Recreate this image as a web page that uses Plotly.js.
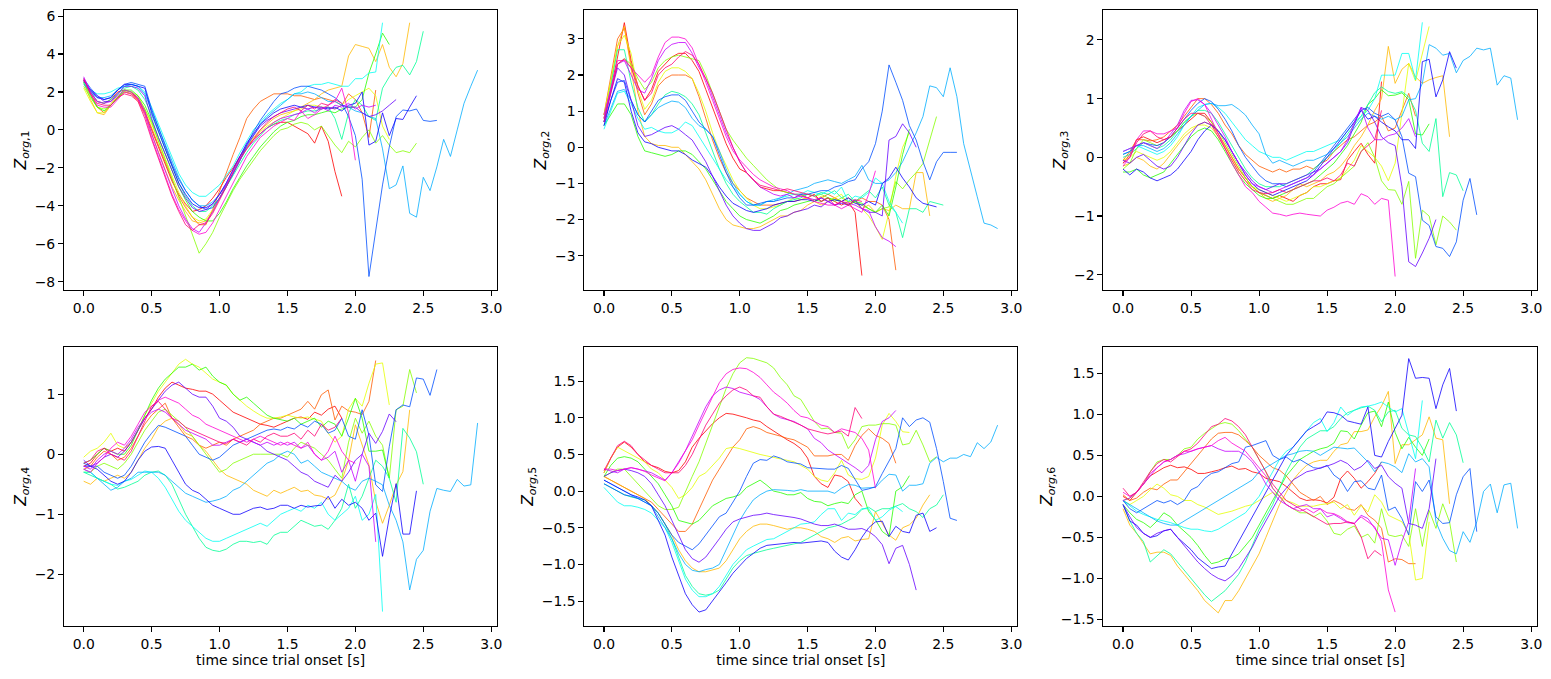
<!DOCTYPE html>
<html>
<head>
<meta charset="utf-8">
<script src="https://cdn.plot.ly/plotly-3.0.1.min.js"></script>
<style>
html,body{margin:0;padding:0;background:#fff;}
#chart{width:1551px;height:679px;}
</style>
</head>
<body>
<div id="chart"></div>
<script>
// sampling interval of every trial [s]
const sampleStep = 0.05;
// one colour per trial (hsv colormap)
const trialColors = ['#ff0000','#ff5c00','#ffb900','#e4ff00','#85ff00','#27ff00','#00ff95','#00fff3',
                     '#00adff','#004fff','#0f00ff','#6600ff','#c400ff','#ff00d4','#ff0076'];
const yLabels = ['<i>Z</i><sub><i>org</i>,1</sub>','<i>Z</i><sub><i>org</i>,2</sub>','<i>Z</i><sub><i>org</i>,3</sub>',
                 '<i>Z</i><sub><i>org</i>,4</sub>','<i>Z</i><sub><i>org</i>,5</sub>','<i>Z</i><sub><i>org</i>,6</sub>'];
const xLabel = 'time since trial onset [s]';
const xTickVals = [0.0,0.5,1.0,1.5,2.0,2.5,3.0];

// ---------- component 1 ----------
const z1 = [
[2.6,2.0,1.5,1.4,1.6,2.0,2.1,2.0,1.6,0.9, 0.0,-0.9,-1.8,-2.7,-3.4,-3.9,-4.3,-4.2,-4.0,-3.6, -3.1,-2.5,-2.0,-1.4,-0.9,-0.5,-0.2,0.1,0.3,0.4, 0.4,0.2,0.0,-0.2,-0.7,0.2,-0.6,-2.2,-3.5],
[2.6,1.9,1.2,0.9,1.3,1.7,2.0,1.9,1.6,1.0, 0.1,-0.8,-1.8,-2.7,-3.5,-4.1,-4.6,-5.0,-5.0,-4.2, -3.2,-2.2,-1.3,-0.4,0.6,1.1,1.5,1.7,1.9,1.9, 1.9,1.8,1.8,1.7,1.6,1.7,1.6,1.5,1.3,1.9, 1.6,0.9,-0.4,2.1],
[2.5,1.6,0.9,0.8,1.3,1.7,2.0,1.9,1.5,0.8, -0.2,-1.2,-2.1,-3.0,-3.7,-4.3,-4.8,-4.9,-4.8,-4.3, -3.6,-2.9,-2.3,-1.6,-0.9,-0.4,0.0,0.3,0.6,0.8, 0.9,1.0,1.2,1.4,1.6,1.9,2.1,2.2,2.3,3.9, 4.5,4.4,4.3,3.6,4.5,3.3,2.8,3.5,5.65],
[2.2,1.5,0.9,0.9,1.4,1.8,2.1,2.0,1.8,1.1, 0.3,-0.6,-1.5,-2.4,-3.3,-4.0,-4.6,-4.8,-4.7,-4.2, -3.6,-2.9,-2.3,-1.6,-1.0,-0.5,-0.1,0.2,0.4,0.6, 0.8,1.0,1.1,1.3,1.3,1.2,1.2,1.1,1.3,1.6, 1.8,2.0,2.2,1.8,0.2,-0.5],
[2.3,1.7,1.2,1.1,1.3,1.7,2.0,2.0,1.7,1.1, 0.4,-0.6,-1.6,-2.6,-3.6,-4.6,-5.5,-6.5,-6.0,-5.4, -4.6,-3.9,-3.2,-2.6,-2.1,-1.6,-1.1,-0.7,-0.3,0.0, 0.1,0.3,0.4,0.3,0.0,0.2,-0.3,-0.8,-1.2,-0.6, -0.9,-0.4,0.0,-0.7,-0.3,-0.8,-1.2,-1.1,-1.2,-0.7],
[2.5,1.8,1.2,1.0,1.3,1.7,2.1,2.1,1.8,1.3, 0.5,-0.4,-1.3,-2.2,-3.0,-3.7,-4.3,-4.6,-4.8,-4.8, -4.4,-3.8,-3.1,-2.5,-1.9,-1.4,-0.9,-0.5,-0.1,0.2, 0.4,0.5,0.7,0.8,0.8,0.9,1.0,0.9,1.1,1.2, 1.2,1.6,3.0,4.0,5.1,4.5],
[2.5,2.0,1.5,1.4,1.6,1.9,2.2,2.3,2.1,1.6, 0.8,-0.1,-1.0,-1.9,-2.8,-3.5,-4.0,-4.3,-4.3,-4.0, -3.6,-3.0,-2.4,-1.8,-1.2,-0.7,-0.3,0.1,0.3,0.5, 0.6,0.8,0.9,1.0,1.0,1.1,1.2,0.6,-0.5,0.9, 1.6,1.3,0.7,0.5,2.2,2.8,3.3,3.4,2.9,3.6, 5.2],
[2.5,2.1,1.9,1.9,2.0,2.2,2.3,2.4,2.3,2.0, 1.2,0.3,-0.6,-1.5,-2.3,-2.9,-3.3,-3.5,-3.5,-3.2, -2.9,-2.4,-1.9,-1.2,-0.6,0.0,0.4,0.8,1.1,1.4, 1.6,1.9,2.0,2.3,2.4,2.4,2.5,2.4,2.3,2.3, 2.7,2.7,3.0,3.05,5.65],
[2.4,2.0,1.7,1.7,1.8,2.1,2.3,2.4,2.3,1.9, 1.0,0.1,-0.8,-1.7,-2.5,-3.2,-3.7,-4.0,-4.0,-3.8, -3.4,-2.9,-2.3,-1.6,-0.9,-0.3,0.3,0.7,1.0,1.3, 1.6,1.9,1.9,2.0,1.9,1.7,1.5,1.5,1.3,1.2, 1.0,0.9,0.7,0.6,-1.0,-3.1,-2.9,-1.9,-4.4,-4.6, -2.5,-3.2,-1.95,-0.5,-1.4,0.0,1.4,2.3,3.15],
[2.7,2.2,1.8,1.6,1.7,2.1,2.4,2.5,2.4,2.3, 1.1,0.1,-0.8,-1.8,-2.6,-3.2,-3.7,-4.0,-4.2,-4.1, -3.6,-3.0,-2.3,-1.6,-0.8,-0.1,0.5,1.0,1.5,1.9, 2.0,2.2,2.3,2.3,2.2,2.1,1.9,1.7,1.4,0.7, -0.3,-2.6,-7.73,-5.3,-2.9,-0.9,0.7,1.05,1.0,1.1, 0.5,0.45,0.5],
[2.6,2.1,1.7,1.6,1.7,2.1,2.4,2.4,2.3,2.2, 0.9,-0.1,-1.0,-1.9,-2.8,-3.4,-3.9,-4.1,-4.1,-3.9, -3.4,-2.8,-2.1,-1.4,-0.7,-0.2,0.3,0.6,0.9,1.1, 1.2,1.3,1.2,1.3,1.2,1.2,1.1,1.2,1.0,1.3, 1.4,2.0,-0.8,-0.6,0.9,-0.3,0.6,0.55,1.2,1.8],
[2.6,2.1,1.8,1.5,1.5,1.9,2.3,2.3,2.2,1.8, 0.6,-0.4,-1.3,-2.2,-3.0,-3.6,-4.1,-4.3,-4.2,-3.9, -3.4,-2.8,-2.1,-1.4,-0.8,-0.3,0.2,0.5,0.7,0.9, 1.0,1.1,1.2,1.1,1.2,1.1,1.2,1.1,1.3,1.2, 1.2,0.9,0.7,0.8,1.0,1.3,1.6],
[2.8,2.0,1.5,1.4,1.5,1.8,2.1,2.0,1.7,1.0, -0.2,-1.2,-2.2,-3.1,-4.0,-4.7,-5.2,-5.4,-4.9,-4.3, -3.6,-2.9,-2.3,-1.6,-1.0,-0.6,-0.2,0.1,0.4,0.6, 0.7,0.8,0.9,1.1,0.9,1.2,1.0,1.3,1.2,1.4, 1.1,1.3,1.2,1.3],
[2.7,1.9,1.3,1.2,1.2,1.6,2.0,1.9,1.6,0.8, -0.4,-1.4,-2.4,-3.4,-4.2,-4.8,-5.3,-5.5,-5.4,-4.9, -4.2,-3.5,-2.8,-2.1,-1.4,-0.9,-0.4,-0.1,0.2,0.4, 0.6,0.5,1.0,0.6,0.8,1.1,1.3,1.5,2.2,0.9, -1.6],
[2.7,1.9,1.4,1.3,1.3,1.7,1.9,1.8,1.5,0.6, -0.5,-1.5,-2.5,-3.5,-4.3,-5.0,-5.3,-5.0,-4.9,-4.4, -3.7,-3.0,-2.2,-1.5,-1.0,-0.5,0.0,0.4,0.7,0.9, 1.1,1.2,1.0,1.3,1.1,1.4,1.3,1.6,1.4]
];

// ---------- component 2 ----------
const z2 = [
[0.8,1.6,2.5,3.45,2.4,1.7,1.3,1.6,2.1,2.3, 2.5,2.6,2.6,2.4,2.1,1.6,1.1,0.6,0.1,-0.3, -0.6,-0.7,-0.9,-1.1,-1.15,-1.2,-1.2,-1.25,-1.3,-1.3, -1.4,-1.3,-1.5,-1.4,-1.5,-1.6,-1.5,-1.8,-3.55],
[0.9,2.0,3.0,3.3,2.3,1.5,0.9,1.2,1.7,1.9, 2.0,2.0,2.0,1.9,1.4,0.8,0.2,-0.3,-0.7,-1.0, -1.2,-1.4,-1.5,-1.6,-1.6,-1.6,-1.55,-1.5,-1.5,-1.45, -1.4,-1.5,-1.4,-1.3,-1.4,-1.5,-1.4,-1.5,-1.4,-1.5, -1.5,-1.6,-2.0,-3.4],
[0.8,1.8,2.8,3.35,2.2,1.0,0.3,0.1,0.05,0.05, 0.0,0.0,-0.2,-0.4,-0.6,-0.9,-1.3,-1.7,-2.0,-2.15, -2.2,-2.25,-2.25,-2.2,-2.1,-2.0,-1.9,-1.9,-1.8,-1.75, -1.6,-1.5,-1.6,-1.5,-1.4,-1.5,-1.6,-1.5,-1.7,-1.6, -1.8,-1.7,-1.75,-1.6,-1.7,-1.7,-0.7,-0.7,-1.9],
[0.9,1.8,2.8,3.1,2.6,1.6,1.05,1.3,1.8,2.1, 2.2,2.2,2.1,1.9,1.5,1.0,0.4,-0.1,-0.5,-0.9, -1.2,-1.4,-1.6,-1.7,-1.7,-1.65,-1.6,-1.5,-1.4,-1.45, -1.4,-1.5,-1.35,-1.5,-1.4,-1.3,-1.6,-1.5,-1.7,-1.9, -2.2,-2.55,-1.8,-0.8,0.0,0.4],
[0.9,1.6,2.3,2.45,2.3,1.9,1.6,1.8,2.2,2.4, 2.5,2.55,2.5,2.45,2.4,2.0,1.5,0.95,0.5,0.2, -0.05,-0.3,-0.5,-0.7,-0.9,-1.05,-1.2,-1.25,-1.3,-1.35, -1.3,-1.35,-1.3,-1.4,-1.5,-1.4,-1.5,-1.5,-1.6,-1.7, -1.8,-1.7,-1.65,-0.95,-1.15,-0.9,-0.7,-0.45,0.2,0.85],
[0.6,0.9,1.2,1.2,0.9,0.3,-0.1,-0.15,-0.2,-0.25, -0.2,-0.1,-0.1,-0.2,-0.4,-0.6,-0.9,-1.2,-1.5,-1.7, -1.9,-2.0,-2.05,-2.1,-2.0,-1.9,-1.75,-1.7,-1.6,-1.55, -1.5,-1.45,-1.5,-1.4,-1.45,-1.5,-1.6,-1.5,-1.55,-1.7, -1.8,-1.6,-1.9,-1.1,-0.2,0.5],
[0.7,1.7,2.7,2.7,1.8,1.1,0.7,0.9,1.2,1.45, 1.55,1.5,1.4,1.2,0.9,0.4,-0.1,-0.6,-1.0,-1.3, -1.5,-1.65,-1.8,-1.8,-1.85,-1.7,-1.6,-1.5,-1.45,-1.4, -1.3,-1.35,-1.25,-1.3,-1.2,-1.4,-1.3,-1.5,-1.35,-1.2, -1.4,-1.1,-1.6,-1.8,-2.5,-1.7,-1.7,-1.8,-1.5,-1.55, -1.6],
[0.5,1.0,1.5,1.55,1.2,0.8,0.5,0.55,0.45,0.4, 0.4,0.5,0.7,0.6,0.3,0.0,-0.3,-0.6,-0.9,-1.1, -1.3,-1.5,-1.6,-1.6,-1.5,-1.5,-1.4,-1.35,-1.3,-1.3, -1.2,-1.25,-1.3,-1.2,-1.3,-1.1,-1.5,-1.35,-1.4,-1.25, -0.85,-1.0,-1.5,-1.8,-2.1],
[0.6,1.1,1.55,1.6,1.3,0.9,0.7,0.9,1.1,1.2, 1.28,1.25,1.1,0.8,0.6,0.5,0.3,-0.1,-0.6,-1.0, -1.3,-1.5,-1.6,-1.6,-1.5,-1.45,-1.4,-1.3,-1.2,-1.15, -1.1,-1.0,-0.95,-0.9,-0.95,-1.0,-0.9,-0.8,-0.5,-0.9, -1.0,-1.0,-0.9,-0.7,-0.4,0.0,0.4,0.85,1.7,1.65, 1.4,2.2,1.4,0.1,-0.6,-1.37,-2.1,-2.15,-2.25],
[0.7,1.3,1.8,1.85,1.3,0.9,0.7,1.0,1.3,1.4, 1.45,1.45,1.3,1.0,0.7,0.5,0.3,-0.2,-0.7,-1.1, -1.4,-1.6,-1.6,-1.55,-1.5,-1.5,-1.45,-1.4,-1.4,-1.3, -1.3,-1.25,-1.2,-1.2,-1.1,-1.05,-0.95,-0.9,-0.6,-0.4, 0.1,1.0,2.28,1.8,1.3,0.6,0.2,-0.4,-0.9,-0.4, -0.14,-0.14,-0.14],
[0.6,1.3,1.9,1.8,1.0,0.4,0.15,0.1,0.0,-0.05, -0.1,-0.1,-0.2,-0.35,-0.45,-0.55,-0.8,-1.1,-1.35,-1.55, -1.65,-1.75,-1.8,-1.75,-1.7,-1.6,-1.55,-1.5,-1.5,-1.45, -1.45,-1.5,-1.4,-1.5,-1.45,-1.5,-1.4,-1.55,-1.6,-1.5, -1.6,-1.0,-0.85,-0.55,-0.85,-1.1,-1.4,-1.55,-1.6,-1.65],
[0.7,1.5,2.2,2.0,1.3,0.6,0.3,0.35,0.45,0.55, 0.6,0.5,0.35,0.2,-0.1,-0.4,-0.8,-1.2,-1.6,-1.9, -2.1,-2.25,-2.3,-2.3,-2.2,-2.1,-1.95,-1.9,-1.8,-1.75, -1.7,-1.6,-1.65,-1.5,-1.6,-1.55,-1.6,-1.45,-1.7,-1.8, -1.8,-1.9,0.2,0.3,0.65,0.4,0.0],
[0.8,1.6,2.3,2.4,2.0,1.6,1.5,1.9,2.4,2.7, 2.85,2.9,2.9,2.6,2.2,1.9,1.4,0.9,0.4,0.0, -0.4,-0.7,-0.9,-1.1,-1.2,-1.3,-1.35,-1.3,-1.4,-1.35, -1.4,-1.45,-1.4,-1.5,-1.6,-1.5,-1.55,-1.6,-1.7,-1.75, -2.2,-2.5,-2.6,-2.75],
[0.9,1.6,2.4,2.4,2.2,2.0,1.8,2.0,2.5,2.9, 3.05,3.05,3.0,2.75,2.3,1.8,1.3,0.8,0.3,-0.1, -0.35,-0.55,-0.75,-0.9,-1.0,-1.1,-1.15,-1.2,-1.3,-1.35, -1.4,-1.5,-1.55,-1.6,-1.6,-1.7,-1.6,-1.7,-1.8,-1.3, -0.65],
[0.7,1.5,2.3,2.45,2.2,1.7,1.3,1.5,2.0,2.2, 2.3,2.5,2.65,2.55,2.3,1.9,1.5,1.0,0.5,0.0, -0.4,-0.7,-0.9,-1.05,-1.1,-1.15,-1.2,-1.15,-1.2,-1.25, -1.3,-1.35,-1.5,-1.4,-1.6,-1.5,-1.6,-1.45,-1.5]
];

// ---------- component 3 ----------
const z3 = [
[-0.1,0.05,0.3,0.35,0.3,0.25,0.3,0.35,0.45,0.55, 0.65,0.75,0.75,0.6,0.4,0.2,0.0,-0.2,-0.35,-0.5, -0.6,-0.65,-0.7,-0.65,-0.7,-0.75,-0.65,-0.6,-0.5,-0.45, -0.45,-0.4,-0.38,-0.05,0.1,0.24,0.05,-0.1,1.29],
[-0.05,0.1,0.3,0.3,0.28,0.3,0.35,0.45,0.55,0.7, 0.85,1.0,1.0,0.9,0.75,0.55,0.4,0.2,0.05,-0.05, -0.15,-0.2,-0.25,-0.2,-0.25,-0.2,-0.2,-0.15,-0.2,-0.1, -0.05,0.1,0.2,0.3,0.35,0.45,0.55,0.6,0.7,0.45, 0.5,0.8,1.09,0.7],
[-0.15,-0.1,0.0,-0.05,-0.15,-0.2,-0.1,0.05,0.2,0.35, 0.45,0.55,0.6,0.55,0.4,0.2,0.0,-0.2,-0.35,-0.5, -0.6,-0.7,-0.75,-0.7,-0.65,-0.55,-0.45,-0.5,-0.45,-0.4, -0.3,-0.25,-0.15,0.0,0.2,0.35,0.55,0.8,1.0,1.89, 1.26,1.5,1.6,1.37,1.26,1.32,1.36,1.39,0.35],
[-0.05,0.0,0.1,0.05,0.0,-0.05,0.0,0.1,0.25,0.4, 0.5,0.55,0.55,0.5,0.35,0.15,-0.05,-0.25,-0.4,-0.5, -0.55,-0.6,-0.65,-0.7,-0.75,-0.7,-0.65,-0.6,-0.5,-0.5, -0.45,-0.4,-0.35,-0.2,-0.05,0.2,0.1,0.0,-0.15,-0.4, -0.1,0.8,1.6,1.3,1.77,2.23],
[-0.2,-0.1,0.15,0.3,0.25,0.2,0.25,0.35,0.45,0.6, 0.7,0.75,0.7,0.6,0.45,0.25,0.05,-0.15,-0.35,-0.5, -0.6,-0.65,-0.7,-0.75,-0.8,-0.8,-0.75,-0.7,-0.7,-0.6, -0.5,-0.45,-0.35,-0.25,-0.15,0.1,0.25,0.0,-0.4,-0.55, -0.56,-0.8,-0.41,-1.72,-0.9,-1.0,-1.49,-1.0,-1.1,-1.24],
[-0.25,-0.25,-0.2,-0.3,-0.35,-0.3,-0.25,-0.1,0.05,0.2, 0.35,0.45,0.5,0.45,0.3,0.1,-0.1,-0.3,-0.45,-0.55, -0.65,-0.7,-0.7,-0.65,-0.6,-0.55,-0.5,-0.45,-0.4,-0.3, -0.2,-0.1,0.05,0.2,0.4,0.6,0.9,1.0,1.15,1.05, 1.06,1.1,0.98,0.4,0.38,0.57],
[0.0,0.05,0.15,0.25,0.2,0.15,0.2,0.3,0.45,0.6, 0.7,0.8,0.8,0.75,0.6,0.4,0.2,0.0,-0.2,-0.35, -0.45,-0.5,-0.5,-0.5,-0.45,-0.4,-0.35,-0.3,-0.2,-0.1, 0.0,0.1,0.25,0.4,0.55,0.7,0.9,1.1,1.2,1.12, 1.09,1.12,1.03,0.8,0.24,0.1,0.66,-0.67,-0.26,-0.3, -0.57],
[0.05,0.1,0.2,0.15,0.1,0.05,0.1,0.2,0.35,0.55, 0.7,0.85,0.9,0.92,0.85,0.75,0.6,0.45,0.3,0.2, 0.1,0.05,0.0,0.0,-0.05,0.0,0.05,0.1,0.1,0.15, 0.2,0.25,0.3,0.45,0.6,0.7,0.8,1.0,1.4,1.4, 1.4,1.77,1.77,1.32,2.3],
[0.1,0.15,0.2,0.2,0.15,0.1,0.15,0.25,0.4,0.55, 0.7,0.8,0.9,0.92,0.88,0.88,0.9,0.82,0.72,0.55, 0.4,0.05,-0.1,-0.05,-0.1,-0.15,-0.1,-0.05,-0.05,0.0, 0.05,0.15,0.25,0.35,0.5,0.65,0.75,0.7,0.65,0.7, 0.64,0.7,0.98,1.0,1.26,1.92,1.86,1.74,1.77,1.44, 1.65,1.72,1.86,1.83,1.86,1.23,1.39,1.35,0.64],
[0.05,0.1,0.2,0.25,0.22,0.2,0.25,0.35,0.5,0.65, 0.8,0.92,1.0,0.95,0.82,0.65,0.45,0.2,0.0,-0.15, -0.3,-0.4,-0.45,-0.45,-0.5,-0.45,-0.4,-0.35,-0.25,-0.1, 0.05,0.2,0.35,0.5,0.65,0.8,0.85,0.75,0.7,0.75, 0.64,0.35,-0.27,-0.33,-1.07,-1.16,-1.52,-1.55,-1.69,-1.44, -0.73,-0.36,-0.98],
[-0.2,-0.3,-0.2,-0.25,-0.35,-0.4,-0.35,-0.3,-0.2,-0.05, 0.1,0.3,0.45,0.55,0.45,0.3,0.1,-0.1,-0.3,-0.45, -0.55,-0.6,-0.65,-0.6,-0.55,-0.5,-0.45,-0.4,-0.3,-0.15, 0.0,0.15,0.3,0.45,0.6,0.8,0.65,0.7,0.6,0.52, 0.45,0.3,0.3,0.15,1.63,1.67,1.03,1.32,1.8,1.52],
[-0.05,-0.1,0.0,0.05,-0.05,-0.15,-0.2,-0.15,0.0,0.2, 0.4,0.55,0.6,0.55,0.45,0.3,0.1,-0.1,-0.25,-0.4, -0.5,-0.55,-0.5,-0.45,-0.45,-0.4,-0.35,-0.3,-0.25,-0.2, -0.1,0.0,0.1,0.25,0.55,0.85,0.8,0.6,0.35,0.25, 0.2,-0.5,-1.78,-1.86,-1.63,-1.38,-1.06],
[0.1,0.15,0.2,0.25,0.2,0.15,0.25,0.4,0.55,0.8, 0.97,0.98,0.9,0.75,0.55,0.35,0.1,-0.1,-0.3,-0.45, -0.5,-0.55,-0.6,-0.55,-0.5,-0.45,-0.4,-0.35,-0.3,-0.2, -0.1,0.0,0.1,0.3,0.6,0.85,0.5,0.3,0.3,0.37, 0.4,0.5,0.66,0.35],
[-0.15,0.0,0.3,0.45,0.45,0.4,0.4,0.45,0.5,0.75, 0.95,1.0,0.9,0.65,0.4,0.15,-0.1,-0.3,-0.5,-0.6, -0.75,-0.85,-0.95,-0.97,-1.0,-0.97,-0.95,-0.97,-0.98,-1.0, -0.9,-0.85,-0.78,-0.75,-0.8,-0.62,-0.67,-0.8,-0.7,-0.73, -2.03],
[-0.1,0.0,0.25,0.4,0.45,0.35,0.3,0.35,0.5,0.65, 0.75,0.75,0.7,0.55,0.35,0.15,-0.05,-0.25,-0.4,-0.55, -0.6,-0.62,-0.6,-0.55,-0.6,-0.55,-0.5,-0.45,-0.4,-0.4, -0.35,-0.4,-0.3,-0.1,-0.15,0.1,0.2,0.3,0.8]
];

// ---------- component 4 ----------
const z4 = [
[-0.2,-0.15,0.0,0.1,0.05,0.1,0.05,0.2,0.4,0.6, 0.75,0.95,1.1,1.2,1.15,1.1,1.08,1.05,1.05,1.0, 0.9,0.8,0.7,0.65,0.6,0.55,0.5,0.48,0.45,0.5, 0.55,0.6,0.62,0.58,0.7,0.65,0.75,0.8,0.6],
[-0.25,-0.2,-0.05,0.05,0.0,-0.1,-0.05,0.1,0.3,0.5, 0.65,0.75,0.85,0.6,0.45,0.3,0.25,0.15,0.1,0.15, 0.2,0.15,0.25,0.3,0.35,0.4,0.5,0.55,0.6,0.6, 0.65,0.7,0.75,0.88,0.75,0.99,1.07,0.57,0.8,0.72, 0.7,0.66,0.88,1.56],
[-0.45,-0.5,-0.4,-0.45,-0.4,-0.35,-0.4,-0.3,-0.1,0.1, 0.25,0.45,0.55,0.6,0.5,0.35,0.3,0.15,0.05,-0.1, -0.25,-0.35,-0.4,-0.45,-0.5,-0.6,-0.65,-0.7,-0.6,-0.65, -0.6,-0.55,-0.62,-0.6,-0.68,-0.7,-0.75,-0.68,-0.45,-0.1, 0.49,0.15,-0.18,-0.79,-1.15,-0.85,-0.51,-0.29,0.74],
[-0.05,0.05,0.1,0.2,0.35,0.15,0.1,0.2,0.4,0.65, 0.85,1.05,1.2,1.35,1.5,1.58,1.5,1.45,1.35,1.25, 1.2,1.15,1.0,0.9,0.8,0.72,0.65,0.6,0.6,0.62, 0.65,0.62,0.6,0.62,0.58,0.55,0.35,0.2,0.3,0.75, 0.93,0.8,1.18,1.5,1.52,0.82],
[-0.3,-0.3,-0.2,-0.15,-0.2,-0.25,-0.15,0.0,0.2,0.4, 0.55,0.7,0.75,0.65,0.55,0.45,0.3,0.15,0.0,-0.15, -0.3,-0.25,-0.15,-0.1,-0.05,0.0,0.0,0.0,0.0,0.0, -0.05,0.1,0.2,0.15,0.1,0.0,-0.1,-0.25,-0.4,0.2, 0.6,0.35,0.55,0.3,0.15,-0.4,0.74,0.8,1.41,1.02],
[-0.15,-0.1,0.0,0.1,0.05,0.0,0.0,0.15,0.4,0.65, 0.9,1.1,1.25,1.35,1.45,1.45,1.5,1.4,1.45,1.3, 1.2,1.15,1.0,0.9,0.95,0.85,0.75,0.65,0.6,0.58, 0.55,0.6,0.5,0.55,0.6,0.45,0.55,0.5,0.3,0.6, 0.93,0.6,0.05,0.05,0.07,-0.4],
[-0.3,-0.35,-0.4,-0.45,-0.5,-0.58,-0.55,-0.5,-0.45,-0.35, -0.3,-0.28,-0.35,-0.5,-0.75,-1.0,-1.2,-1.4,-1.55,-1.6, -1.62,-1.58,-1.5,-1.45,-1.45,-1.47,-1.45,-1.5,-1.35,-1.3, -1.3,-1.2,-1.1,-1.15,-1.2,-1.18,-1.25,-1.1,-0.9,-0.5, -0.9,-0.7,-0.4,-0.1,-0.2,-0.4,-0.8,0.43,0.27,0.04, -0.5],
[-0.3,-0.3,-0.4,-0.45,-0.5,-0.52,-0.45,-0.42,-0.35,-0.28, -0.3,-0.4,-0.55,-0.75,-0.95,-1.1,-1.2,-1.3,-1.4,-1.45, -1.45,-1.4,-1.35,-1.3,-1.25,-1.2,-1.15,-1.2,-1.1,-1.0, -0.95,-0.9,-0.95,-0.85,-0.9,-0.8,-1.0,-1.1,-1.0,-0.9, -0.7,-1.1,-1.0,-0.67,-2.62],
[-0.25,-0.3,-0.4,-0.5,-0.6,-0.55,-0.45,-0.4,-0.3,-0.3, -0.3,-0.3,-0.35,-0.45,-0.55,-0.65,-0.7,-0.75,-0.8,-0.78, -0.75,-0.7,-0.6,-0.55,-0.45,-0.35,-0.25,-0.15,-0.1,0.0, 0.05,0.0,-0.15,-0.1,-0.2,-0.3,-0.35,-0.4,-0.45,-0.55, -0.6,-0.45,-0.4,-0.45,-0.51,-0.85,-1.1,-1.46,-2.26,-1.75, -1.6,-0.95,-0.57,-0.6,-0.62,-0.42,-0.53,-0.51,0.52],
[-0.15,-0.2,-0.2,-0.3,-0.35,-0.4,-0.35,-0.2,0.0,0.2, 0.35,0.48,0.45,0.4,0.35,0.3,0.15,0.0,-0.05,-0.1, -0.05,0.05,0.15,0.2,0.25,0.3,0.35,0.4,0.42,0.4, 0.45,0.42,0.5,0.45,0.55,0.5,0.35,0.4,0.6,0.3, 0.25,0.74,0.32,-0.51,-0.62,0.13,0.74,0.82,0.79,1.27, 1.25,0.98,1.41],
[-0.2,-0.2,-0.25,-0.35,-0.45,-0.5,-0.45,-0.3,-0.1,0.05, 0.12,0.13,0.1,-0.1,-0.3,-0.5,-0.6,-0.65,-0.75,-0.85, -0.9,-0.95,-1.0,-1.0,-0.95,-0.9,-0.88,-0.92,-0.9,-0.85, -0.85,-0.9,-0.85,-0.88,-0.86,-0.85,-0.7,-0.9,-0.75,-0.85, -0.8,-0.9,-1.1,-0.98,-1.7,-1.05,-0.49,-1.33,-1.33,-0.61],
[-0.1,-0.2,-0.15,-0.05,0.0,-0.05,0.05,0.2,0.4,0.6, 0.75,0.9,1.05,1.15,1.2,1.1,1.0,0.95,0.95,0.8, 0.6,0.55,0.45,0.3,0.25,0.2,0.15,0.05,0.0,-0.05, -0.1,-0.2,-0.3,-0.35,-0.45,-0.5,-0.55,-0.35,-0.45,-0.3, -0.1,0.0,0.35,0.18,0.38,0.67,0.54],
[-0.2,-0.25,-0.1,0.0,0.05,0.0,0.1,0.25,0.45,0.6, 0.7,0.75,0.7,0.6,0.5,0.4,0.35,0.3,0.25,0.15, 0.15,0.2,0.25,0.2,0.25,0.2,0.15,0.2,0.15,0.2, 0.15,0.2,0.1,0.15,0.0,-0.1,-0.05,0.05,-0.3,-0.1, -0.45,0.0,-0.2,-1.46],
[-0.25,-0.3,-0.15,-0.05,0.1,0.2,0.15,0.3,0.5,0.7, 0.8,0.9,0.95,0.9,0.85,0.75,0.65,0.6,0.5,0.45, 0.4,0.35,0.3,0.25,0.2,0.25,0.3,0.25,0.2,0.15, 0.2,0.15,0.1,0.2,0.0,-0.1,0.05,0.3,0.05,-0.1, -0.15],
[-0.15,-0.1,0.05,0.1,0.0,-0.05,-0.1,0.05,0.3,0.55, 0.8,0.88,0.75,0.6,0.55,0.45,0.4,0.35,0.3,0.25, 0.2,0.18,0.25,0.2,0.15,0.25,0.2,0.3,0.35,0.3, 0.3,0.35,0.25,0.4,0.3,0.5,0.4,0.45,0.6]
];

// ---------- component 5 ----------
const z5 = [
[0.25,0.45,0.6,0.67,0.6,0.5,0.4,0.35,0.32,0.27, 0.25,0.28,0.4,0.6,0.72,0.82,0.92,1.0,1.06,1.05, 1.03,1.0,0.97,0.95,0.88,0.82,0.75,0.7,0.65,0.58, 0.45,0.2,0.1,0.05,0.22,0.2,0.13,-0.1,-0.21],
[0.2,0.15,0.1,0.05,0.0,-0.05,-0.1,-0.15,-0.25,-0.35, -0.45,-0.55,-0.55,-0.45,-0.25,-0.05,0.15,0.3,0.45,0.6, 0.7,0.85,0.88,0.85,0.8,0.78,0.75,0.72,0.7,0.65, 0.6,0.48,0.48,0.48,0.5,0.5,0.42,0.62,0.76,0.85, 0.76,0.72,0.65,0.38],
[0.2,0.15,0.1,0.05,0.0,-0.05,-0.1,-0.2,-0.3,-0.45, -0.6,-0.8,-0.95,-1.05,-1.1,-1.1,-1.08,-1.05,-0.95,-0.8, -0.65,-0.55,-0.48,-0.45,-0.45,-0.47,-0.5,-0.52,-0.5,-0.5, -0.52,-0.55,-0.62,-0.65,-0.7,-0.64,-0.62,-0.68,-0.66,-0.65, -0.28,-0.44,-0.6,-0.67,-0.5,-0.46,-0.37,-0.19,-0.05],
[0.25,0.45,0.6,0.55,0.5,0.45,0.4,0.3,0.25,0.15, 0.05,-0.1,-0.05,0.05,0.2,0.25,0.35,0.45,0.58,0.6, 0.58,0.55,0.53,0.5,0.48,0.46,0.44,0.42,0.4,0.35, 0.3,0.2,0.15,0.13,0.25,0.42,0.22,0.17,0.16,0.2, 0.45,0.9,1.06,0.95,0.81,0.8],
[0.2,0.25,0.3,0.3,0.2,0.1,0.0,-0.1,-0.2,-0.25, -0.25,-0.22,0.0,0.2,0.4,0.65,0.9,1.15,1.4,1.6, 1.75,1.82,1.81,1.78,1.75,1.68,1.55,1.45,1.3,1.25, 1.1,0.95,0.85,0.86,0.8,0.79,0.58,0.7,0.88,0.9, 0.9,0.92,0.92,0.9,0.63,0.65,0.83,0.63,0.4,0.47],
[0.2,0.35,0.45,0.47,0.45,0.4,0.3,0.2,0.1,-0.05, -0.2,-0.4,-0.42,-0.45,-0.4,-0.3,-0.2,-0.15,-0.1,-0.08, -0.05,0.05,0.1,0.15,0.08,0.0,-0.02,-0.05,-0.05,-0.02, -0.1,-0.14,-0.15,-0.2,-0.17,-0.15,-0.17,-0.05,0.0,-0.28, -0.39,-0.55,-0.62,0.0,0.06,0.21],
[0.1,0.05,0.0,-0.05,-0.08,-0.1,-0.12,-0.2,-0.3,-0.45, -0.65,-0.9,-1.15,-1.3,-1.4,-1.42,-1.4,-1.35,-1.2,-1.05, -0.95,-0.88,-0.85,-0.82,-0.8,-0.78,-0.76,-0.74,-0.72,-0.7, -0.65,-0.6,-0.55,-0.5,-0.48,-0.45,-0.4,-0.35,-0.25,-0.22, -0.28,-0.24,-0.24,-0.21,-0.17,-0.24,-0.28,-0.36,-0.24,-0.19, -0.05],
[0.05,-0.05,-0.15,-0.2,-0.2,-0.22,-0.25,-0.3,-0.4,-0.5, -0.7,-0.95,-1.2,-1.35,-1.44,-1.44,-1.4,-1.3,-1.15,-1.0, -0.9,-0.8,-0.75,-0.7,-0.66,-0.65,-0.6,-0.55,-0.5,-0.45, -0.44,-0.42,-0.32,-0.24,-0.24,-0.4,-0.3,-0.32,-0.24,-0.24, -0.4,-0.35,-0.26,-0.21,-0.28],
[0.15,0.1,0.05,0.0,-0.05,-0.1,-0.15,-0.2,-0.35,-0.5, -0.65,-0.85,-1.0,-1.08,-1.1,-1.07,-1.05,-1.0,-0.8,-0.6, -0.4,-0.25,-0.12,-0.05,0.0,0.02,0.02,0.01,0.0,0.02, 0.0,0.0,0.01,0.0,-0.03,0.04,0.09,0.08,0.04,0.04, 0.05,0.15,0.23,0.22,0.0,0.08,0.08,0.1,0.38,0.46, 0.4,0.45,0.45,0.5,0.47,0.66,0.58,0.67,0.9],
[0.1,0.05,0.0,-0.05,-0.07,-0.1,-0.15,-0.2,-0.3,-0.45, -0.6,-0.7,-0.75,-0.8,-0.72,-0.6,-0.48,-0.35,-0.3,-0.15, 0.0,0.2,0.38,0.43,0.42,0.48,0.45,0.4,0.38,0.37, 0.32,0.31,0.3,0.3,0.3,0.35,0.31,0.15,0.01,0.03, 0.06,0.24,0.4,0.58,1.0,0.88,0.97,1.0,0.94,0.58, 0.13,-0.37,-0.4],
[0.15,0.1,0.05,0.0,-0.05,-0.08,-0.12,-0.2,-0.4,-0.6, -0.9,-1.15,-1.4,-1.55,-1.65,-1.62,-1.5,-1.38,-1.25,-1.12, -1.02,-0.92,-0.85,-0.78,-0.74,-0.73,-0.72,-0.71,-0.7,-0.71, -0.7,-0.7,-0.68,-0.7,-0.82,-0.9,-0.94,-0.8,-0.63,-0.5, -0.42,-0.41,-0.62,-0.48,-0.55,-0.57,-0.33,-0.3,-0.55,-0.5],
[0.2,0.25,0.28,0.3,0.28,0.25,0.2,0.1,-0.05,-0.2, -0.4,-0.6,-0.8,-0.92,-0.97,-0.9,-0.78,-0.65,-0.52,-0.42, -0.38,-0.35,-0.33,-0.32,-0.3,-0.32,-0.33,-0.34,-0.36,-0.38, -0.42,-0.45,-0.47,-0.47,-0.45,-0.48,-0.52,-0.52,-0.51,-0.55, -0.62,-0.73,-0.99,-0.78,-0.74,-1.0,-1.35],
[0.3,0.28,0.25,0.3,0.32,0.3,0.28,0.25,0.2,0.15, 0.25,0.4,0.55,0.75,0.95,1.15,1.3,1.38,1.42,1.4, 1.35,1.32,1.3,1.25,1.15,1.05,1.0,0.98,0.95,0.9, 0.85,0.72,0.66,0.56,0.5,0.45,0.38,0.32,0.25,0.35, 0.7,0.95,1.0,1.1],
[0.3,0.3,0.28,0.3,0.32,0.3,0.27,0.22,0.18,0.14, 0.25,0.38,0.55,0.7,0.9,1.1,1.3,1.48,1.6,1.66, 1.68,1.67,1.62,1.55,1.45,1.35,1.28,1.2,1.1,1.02, 1.0,0.95,0.9,0.88,0.8,0.85,0.82,0.8,0.72,0.56, 0.04],
[0.28,0.45,0.62,0.68,0.62,0.5,0.42,0.35,0.3,0.25, 0.25,0.25,0.35,0.5,0.7,0.9,1.05,1.2,1.3,1.38, 1.42,1.38,1.3,1.28,1.15,1.05,1.02,0.98,0.95,0.9, 0.85,0.82,0.8,0.78,0.8,0.82,0.75,1.14,0.99]
];

// ---------- component 6 ----------
const z6 = [
[0.0,-0.05,0.05,0.15,0.25,0.3,0.35,0.38,0.35,0.36, 0.33,0.28,0.28,0.3,0.32,0.35,0.37,0.33,0.34,0.3, 0.28,0.22,0.2,0.18,0.12,0.05,-0.02,-0.05,-0.04,-0.05, -0.08,-0.01,0.22,0.31,0.22,0.1,0.18,0.28,0.42],
[0.02,-0.05,-0.02,0.05,0.1,0.08,0.15,0.2,0.2,0.3, 0.4,0.5,0.6,0.7,0.77,0.78,0.78,0.75,0.68,0.6, 0.5,0.42,0.35,0.32,0.25,0.15,0.05,0.0,-0.05,0.0, -0.1,-0.05,-0.09,-0.15,-0.17,-0.1,-0.23,-0.29,-0.39,-0.8, -0.76,-0.77,-0.82,-0.82],
[-0.15,-0.35,-0.45,-0.58,-0.7,-0.68,-0.68,-0.72,-0.85,-0.95, -1.05,-1.15,-1.27,-1.35,-1.42,-1.27,-1.27,-1.15,-1.0,-0.85, -0.7,-0.5,-0.3,-0.1,0.05,0.2,0.3,0.38,0.42,0.44, 0.44,0.55,0.63,0.65,0.79,0.79,0.81,0.97,1.1,1.28, 0.4,0.63,0.63,0.69,0.75,0.97,0.71,0.69,-0.09],
[-0.05,-0.1,-0.05,0.0,0.08,0.15,0.1,0.02,0.0,-0.05, -0.05,-0.1,-0.13,-0.18,-0.22,-0.2,-0.18,-0.15,-0.12,-0.1, -0.05,0.0,0.05,0.0,-0.05,-0.08,-0.12,-0.12,-0.12,-0.1, -0.09,-0.07,-0.15,-0.1,-0.23,-0.11,-0.19,0.02,-0.07,-0.23, -0.27,-0.31,-0.45,-1.02,-1.0,-0.31],
[-0.05,-0.02,0.05,0.15,0.3,0.42,0.45,0.45,0.5,0.58, 0.6,0.7,0.77,0.82,0.88,0.9,0.88,0.8,0.7,0.6, 0.45,0.3,0.1,0.0,-0.1,-0.15,-0.2,-0.2,-0.25,-0.2, -0.3,-0.45,-0.47,-0.4,-0.36,-0.5,-0.46,-0.57,-0.15,-0.47, -0.49,-0.47,-0.61,-0.15,-0.61,-0.17,-0.39,-0.09,-0.31,-0.8],
[-0.1,-0.2,-0.28,-0.32,-0.38,-0.3,-0.2,-0.25,-0.35,-0.42, -0.5,-0.6,-0.72,-0.82,-0.8,-0.76,-0.75,-0.7,-0.6,-0.5, -0.35,-0.2,-0.05,0.1,0.25,0.35,0.45,0.5,0.55,0.58, 0.6,0.65,0.8,0.79,0.7,0.87,1.02,1.04,0.85,1.15, 0.78,0.58,0.72,0.6,0.5,0.7],
[-0.1,-0.3,-0.45,-0.55,-0.8,-0.72,-0.65,-0.7,-0.8,-0.9, -1.0,-1.1,-1.2,-1.28,-1.22,-1.15,-1.05,-0.95,-0.8,-0.6, -0.4,-0.25,-0.1,0.1,0.3,0.45,0.6,0.7,0.75,0.8, 0.8,0.85,0.95,1.02,1.05,1.08,1.1,1.05,0.91,1.03, 1.05,0.83,0.75,0.73,0.59,0.42,0.93,0.71,0.9,0.75, 0.41],
[-0.05,-0.12,-0.18,-0.22,-0.25,-0.28,-0.3,-0.32,-0.35,-0.38, -0.4,-0.4,-0.42,-0.43,-0.4,-0.35,-0.3,-0.25,-0.2,-0.1, 0.0,0.15,0.3,0.45,0.55,0.6,0.7,0.8,0.9,0.95, 0.79,0.9,1.09,0.99,1.05,1.09,1.1,1.12,1.15,1.09, 1.03,1.07,0.75,0.46,1.17],
[-0.05,-0.1,-0.15,-0.2,-0.25,-0.3,-0.33,-0.35,-0.35,-0.3, -0.25,-0.2,-0.15,-0.1,-0.05,0.0,0.05,0.1,0.15,0.2, 0.3,0.35,0.4,0.45,0.5,0.52,0.55,0.56,0.55,0.5, 0.55,0.6,0.59,0.58,0.59,0.5,0.42,0.3,0.42,0.4, 0.36,0.29,0.52,0.42,0.46,0.36,-0.31,-0.51,-0.66,-0.7, -0.43,-0.56,-0.31,0.06,0.15,-0.2,0.14,0.16,-0.39],
[-0.05,-0.15,-0.2,-0.15,-0.1,-0.05,-0.08,-0.05,-0.1,-0.05, 0.08,0.12,0.22,0.28,0.3,0.35,0.4,0.42,0.6,0.62, 0.65,0.68,0.5,0.45,0.48,0.42,0.45,0.4,0.35,0.34, 0.38,0.26,0.2,0.06,0.18,0.19,0.1,0.08,0.26,-0.17, -0.13,-0.27,-0.47,0.18,0.06,0.2,-0.25,-0.33,-0.32,0.02, 0.24,0.34,-0.43],
[-0.1,-0.3,-0.35,-0.45,-0.5,-0.48,-0.42,-0.4,-0.5,-0.58, -0.65,-0.75,-0.82,-0.88,-0.86,-0.85,-0.7,-0.55,-0.4,-0.25, -0.1,0.05,0.2,0.35,0.5,0.6,0.7,0.8,0.85,0.9, 1.03,1.02,0.99,0.92,0.9,0.88,1.09,0.5,0.48,0.67, 0.83,0.99,1.68,1.44,1.45,1.44,1.07,1.36,1.56,1.04],
[-0.1,-0.25,-0.38,-0.45,-0.5,-0.45,-0.42,-0.4,-0.5,-0.6, -0.7,-0.8,-0.88,-0.95,-1.0,-1.03,-0.97,-0.88,-0.75,-0.62, -0.45,-0.3,-0.15,0.0,0.1,0.2,0.25,0.3,0.32,0.35, 0.37,0.4,0.44,0.4,0.32,0.36,0.44,0.34,0.38,0.24, 0.16,0.1,-0.33,-0.35,-0.39,-0.15,0.46],
[-0.05,-0.02,0.05,0.15,0.25,0.35,0.42,0.45,0.5,0.52, 0.55,0.58,0.6,0.62,0.58,0.55,0.55,0.55,0.5,0.42, 0.3,0.15,0.05,-0.05,-0.1,-0.15,-0.12,-0.1,-0.15,-0.15, -0.25,-0.22,-0.27,-0.32,-0.33,-0.23,-0.27,-0.39,-0.51,-0.53, -0.84,-0.55,-0.31,0.34],
[0.05,0.0,0.05,0.15,0.28,0.35,0.42,0.45,0.5,0.55, 0.55,0.58,0.6,0.62,0.68,0.72,0.65,0.6,0.55,0.45, 0.35,0.25,0.1,0.0,-0.1,-0.15,-0.18,-0.15,-0.2,-0.15, -0.2,-0.21,-0.25,-0.31,-0.33,-0.25,-0.31,-0.37,-0.55,-1.14, -1.41],
[0.1,0.0,0.05,0.18,0.3,0.4,0.45,0.42,0.48,0.55, 0.58,0.65,0.75,0.85,0.88,0.95,0.92,0.85,0.75,0.6, 0.45,0.3,0.15,0.05,-0.05,-0.1,-0.15,-0.2,-0.25,-0.3, -0.34,-0.33,-0.33,-0.31,-0.33,-0.49,-0.76,-0.66,-0.72]
];

const panels = [z1, z2, z3, z4, z5, z6];

// ---------- layout ----------
const W = 1551, H = 679;
const colPx = [[64, 497.3], [584.3, 1017.3], [1103.3, 1537.3]];
const rowPx = [[10, 290], [346.7, 626]];
const yRanges = [[-8.44, 6.32], [-3.95, 3.80], [-2.26, 2.51], [-2.86, 1.79], [-1.84, 1.97], [-1.58, 1.825]];
const yDticks = [2, 1, 1, 1, 0.5, 0.5];
const yFormats = ['d', 'd', 'd', 'd', '.1f', '.1f'];
const FONT = 'DejaVu Sans, Arial, sans-serif';
const FS = 13.9;

const traces = [];
const layout = {
  width: W, height: H,
  margin: {l: 0, r: 0, t: 0, b: 0, pad: 0},
  paper_bgcolor: '#fff', plot_bgcolor: '#fff',
  showlegend: false,
  font: {family: FONT, size: FS, color: '#000'}
};

panels.forEach((panel, p) => {
  const row = Math.floor(p / 3), col = p % 3;
  const n = p + 1;
  const xa = 'xaxis' + (n === 1 ? '' : n), ya = 'yaxis' + (n === 1 ? '' : n);
  const xr = 'x' + (n === 1 ? '' : n), yr = 'y' + (n === 1 ? '' : n);
  panel.forEach((vals, k) => {
    traces.push({
      type: 'scatter', mode: 'lines',
      x: vals.map((_, i) => Math.round(i * sampleStep * 1000) / 1000),
      y: vals,
      xaxis: xr, yaxis: yr,
      line: {color: trialColors[k], width: 0.8},
      hoverinfo: 'skip', showlegend: false
    });
  });
  const common = {
    showline: true, linecolor: '#000', linewidth: 1.1, mirror: true,
    ticks: 'outside', ticklen: 4.9, tickwidth: 1.1, tickcolor: '#000',
    showgrid: false, zeroline: false, fixedrange: true,
    tickfont: {family: FONT, size: FS, color: '#000'}
  };
  const xAxis = Object.assign({}, common, {
    domain: [colPx[col][0] / W, colPx[col][1] / W],
    anchor: yr, range: [-0.145, 3.045],
    tickmode: 'array', tickvals: xTickVals, ticktext: xTickVals.map(v => v.toFixed(1))
  });
  if (row === 1) {
    xAxis.title = {text: xLabel, font: {family: FONT, size: FS, color: '#000'}, standoff: 4};
  }
  layout[xa] = xAxis;
  layout[ya] = Object.assign({}, common, {
    domain: [1 - rowPx[row][1] / H, 1 - rowPx[row][0] / H],
    anchor: xr, range: yRanges[p],
    tick0: 0, dtick: yDticks[p], tickformat: yFormats[p],
    title: {text: yLabels[p], font: {family: FONT, size: 15.5, color: '#000'}, standoff: 4}
  });
});

Plotly.newPlot('chart', traces, layout, {displayModeBar: false, staticPlot: true});
</script>
</body>
</html>
